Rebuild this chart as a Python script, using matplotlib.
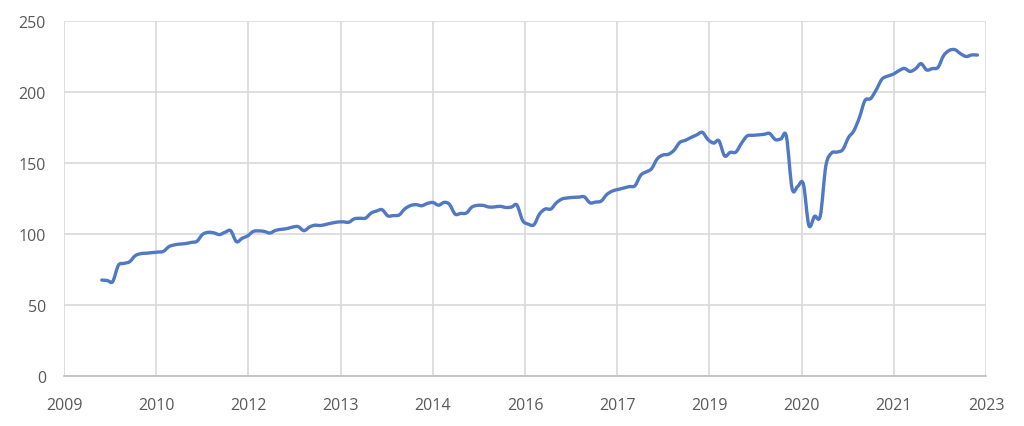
import datetime as dt

import matplotlib
matplotlib.use("Agg")
import matplotlib.dates as mdates
import matplotlib.pyplot as plt
import numpy as np
import pandas as pd
from matplotlib.patches import PathPatch
from matplotlib.path import Path

# monthly values, Jan 2010 .. Jan 2023
VALUES = [
    67.6, 67.2, 66.5, 78.0, 79.3, 80.5, 84.7, 86.2, 86.5, 86.9, 87.3, 87.8,
    91.2, 92.4, 92.9, 93.3, 94.1, 94.9, 99.7, 101.2, 100.8, 99.6, 101.3, 102.3,
    94.6, 97.0, 98.6, 101.8, 102.2, 101.8, 100.7, 102.6, 103.3, 103.8, 104.9, 105.2,
    102.4, 105.0, 106.2, 106.0, 106.8, 107.7, 108.4, 108.6, 108.3, 110.7, 111.1, 111.2,
    114.8, 116.3, 117.1, 112.8, 113.0, 113.4, 117.6, 120.0, 120.7, 119.9, 121.5, 122.2,
    120.3, 122.3, 120.9, 114.0, 114.5, 114.8, 119.0, 120.2, 120.1, 119.0, 119.1, 119.5,
    118.7, 119.0, 120.4, 109.5, 107.0, 106.5, 114.0, 117.6, 117.6, 122.0, 124.7, 125.4,
    125.8, 126.0, 126.2, 122.0, 122.5, 123.2, 127.8, 130.3, 131.4, 132.4, 133.4, 134.0,
    141.4, 143.8, 146.0, 153.0, 155.6, 156.2, 159.0, 164.5, 166.0, 168.0, 169.8, 171.6,
    166.5, 164.0, 165.7, 155.0, 157.5, 157.7, 163.8, 169.0, 169.5, 169.8, 170.2, 170.8,
    166.5, 167.0, 168.8, 132.0, 133.5, 135.2, 106.0, 112.5, 112.8, 148.0, 157.0, 157.7,
    159.5, 168.0, 172.5, 182.0, 194.0, 195.4, 201.5, 209.0, 211.2, 212.5, 215.0, 216.6,
    214.5, 216.5, 220.0, 215.5, 216.5, 217.3, 225.5, 229.3, 229.8, 227.0, 225.0, 226.1,
    226.0,
]
DATES = pd.date_range("2010-01-01", periods=len(VALUES), freq="MS")

Y_TICKS = [0, 50, 100, 150, 200, 250]
X_START = dt.datetime(2009, 6, 10)
X_STEP_DAYS = 500
N_X_STEPS = 10


def smooth_path(x, y):
    """Excel-like smoothed line: cubic bezier through every point."""
    p = np.column_stack([x, y])
    ext = np.vstack([p[0], p, p[-1]])
    verts = [p[0]]
    codes = [Path.MOVETO]
    for i in range(len(p) - 1):
        p0, p1, p2, p3 = ext[i], ext[i + 1], ext[i + 2], ext[i + 3]
        verts += [p1 + (p2 - p0) / 6, p2 - (p3 - p1) / 6, p2]
        codes += [Path.CURVE4] * 3
    return Path(verts, codes)


def main() -> None:
    plt.rcParams["font.family"] = ["Open Sans", "DejaVu Sans"]
    fig = plt.figure(figsize=(10.24, 4.27), dpi=100)
    ax = fig.add_axes([0.0625, 0.117, 0.9005, 0.8315])

    grid = "#d9d9d9"
    x = mdates.date2num(DATES.to_pydatetime())
    line = PathPatch(smooth_path(x, VALUES), fill=False, edgecolor="#5078c4",
                     lw=2.4, joinstyle="round", capstyle="round", zorder=3)
    ax.add_patch(line)

    xticks = [X_START + dt.timedelta(days=X_STEP_DAYS * k) for k in range(N_X_STEPS + 1)]
    ax.xaxis_date()
    ax.set_xlim(xticks[0], xticks[-1])
    ax.set_xticks(xticks)
    ax.xaxis.set_major_formatter(mdates.DateFormatter("%Y"))
    ax.set_ylim(0, 250)
    ax.set_yticks(Y_TICKS)

    ax.grid(True, color=grid, lw=1.2, zorder=0)
    for side in ("top", "left", "right"):
        ax.spines[side].set_visible(False)
    ax.spines["bottom"].set_color("#bfbfbf")
    ax.spines["bottom"].set_linewidth(1.2)

    ax.tick_params(axis="both", length=0, labelsize=11.5, labelcolor="#595959")
    ax.tick_params(axis="y", pad=13)
    ax.tick_params(axis="x", pad=15)

    fig.savefig("out.png", dpi=100)
    plt.close(fig)


if __name__ == "__main__":
    main()
